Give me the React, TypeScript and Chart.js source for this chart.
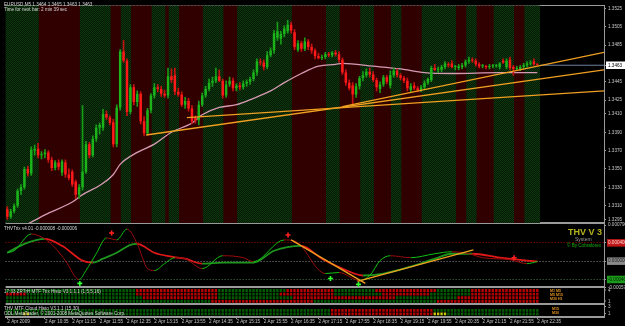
import React, { useEffect, useRef } from 'react';
import { Chart, registerables } from 'chart.js';

Chart.register(...registerables);

const FONT = '"Liberation Sans", "DejaVu Sans", sans-serif';
const SLOTS = 175;

// ---------- main price data (M5 bars, 2 Apr 2009 09:40 .. 22:35) ----------
const OPEN = [
  1.3306, 1.3298, 1.3304, 1.3310, 1.3326, 1.3330, 1.3350, 1.3345, 1.3370, 1.3372,
  1.3365, 1.3366, 1.3368, 1.3360, 1.3351, 1.3357, 1.3346, 1.3357, 1.3344, 1.3347,
  1.3336, 1.3322, 1.3330, 1.3347, 1.3377, 1.3365, 1.3383, 1.3395, 1.3395, 1.3410,
  1.3406, 1.3401, 1.3377, 1.3417, 1.3478, 1.3468, 1.3412, 1.3439, 1.3423, 1.3432,
  1.3402, 1.3389, 1.3414, 1.3430, 1.3439, 1.3437, 1.3432, 1.3430, 1.3451, 1.3452,
  1.3434, 1.3431, 1.3420, 1.3424, 1.3416, 1.3406, 1.3403, 1.3420, 1.3430, 1.3437,
  1.3444, 1.3446, 1.3451, 1.3446, 1.3430, 1.3442, 1.3446, 1.3438, 1.3441, 1.3439,
  1.3443, 1.3445, 1.3448, 1.3455, 1.3467, 1.3466, 1.3461, 1.3474, 1.3479, 1.3493,
  1.3492, 1.3497, 1.3500, 1.3507, 1.3499, 1.3480, 1.3487, 1.3481, 1.3489, 1.3483,
  1.3479, 1.3473, 1.3471, 1.3472, 1.3475, 1.3474, 1.3477, 1.3475, 1.3469, 1.3455,
  1.3444, 1.3441, 1.3431, 1.3440, 1.3449, 1.3452, 1.3456, 1.3453, 1.3447, 1.3437,
  1.3442, 1.3450, 1.3441, 1.3452, 1.3457, 1.3452, 1.3449, 1.3446, 1.3436, 1.3441,
  1.3438, 1.3436, 1.3439, 1.3444, 1.3447, 1.3460, 1.3458, 1.3458, 1.3461, 1.3464,
  1.3465, 1.3461, 1.3460, 1.3461, 1.3463, 1.3467, 1.3469, 1.3468, 1.3464, 1.3462,
  1.3462, 1.3461, 1.3462, 1.3462, 1.3461, 1.3468, 1.3461, 1.3469, 1.3461, 1.3459,
  1.3459, 1.3461, 1.3463, 1.3465, 1.3467, 1.3464,
];
const HIGH = [
  1.3309, 1.3306, 1.3312, 1.3328, 1.3333, 1.3352, 1.3353, 1.3374, 1.3376, 1.3378,
  1.3369, 1.3371, 1.3370, 1.3363, 1.3359, 1.3360, 1.3360, 1.3360, 1.3350, 1.3349,
  1.3338, 1.3333, 1.3419, 1.3380, 1.3379, 1.3386, 1.3398, 1.3400, 1.3415, 1.3413,
  1.3408, 1.3404, 1.3420, 1.3480, 1.3490, 1.3470, 1.3442, 1.3442, 1.3435, 1.3434,
  1.3407, 1.3416, 1.3432, 1.3443, 1.3442, 1.3440, 1.3436, 1.3460, 1.3459, 1.3460,
  1.3438, 1.3434, 1.3428, 1.3427, 1.3419, 1.3408, 1.3424, 1.3433, 1.3440, 1.3448,
  1.3450, 1.3460, 1.3458, 1.3448, 1.3446, 1.3450, 1.3449, 1.3443, 1.3444, 1.3446,
  1.3447, 1.3450, 1.3458, 1.3470, 1.3470, 1.3469, 1.3478, 1.3482, 1.3501, 1.3510,
  1.3500, 1.3506, 1.3512, 1.3510, 1.3502, 1.3490, 1.3489, 1.3493, 1.3491, 1.3486,
  1.3481, 1.3476, 1.3474, 1.3477, 1.3477, 1.3478, 1.3479, 1.3478, 1.3471, 1.3458,
  1.3447, 1.3444, 1.3443, 1.3451, 1.3456, 1.3459, 1.3460, 1.3456, 1.3449, 1.3445,
  1.3452, 1.3452, 1.3457, 1.3460, 1.3459, 1.3454, 1.3451, 1.3449, 1.3443, 1.3444,
  1.3440, 1.3441, 1.3446, 1.3449, 1.3462, 1.3464, 1.3461, 1.3463, 1.3467, 1.3466,
  1.3468, 1.3463, 1.3464, 1.3465, 1.3469, 1.3472, 1.3471, 1.3470, 1.3466, 1.3464,
  1.3463, 1.3464, 1.3464, 1.3464, 1.3466, 1.3470, 1.3470, 1.3472, 1.3463, 1.3462,
  1.3463, 1.3465, 1.3467, 1.3468, 1.3470, 1.3465,
];
const LOW = [
  1.3295, 1.3296, 1.3302, 1.3308, 1.3322, 1.3328, 1.3342, 1.3343, 1.3365, 1.3362,
  1.3361, 1.3362, 1.3357, 1.3348, 1.3349, 1.3349, 1.3343, 1.3341, 1.3338, 1.3331,
  1.3318, 1.3318, 1.3327, 1.3345, 1.3362, 1.3363, 1.3380, 1.3388, 1.3392, 1.3404,
  1.3398, 1.3374, 1.3374, 1.3414, 1.3466, 1.3408, 1.3410, 1.3420, 1.3418, 1.3399,
  1.3386, 1.3387, 1.3411, 1.3427, 1.3434, 1.3429, 1.3428, 1.3427, 1.3444, 1.3431,
  1.3429, 1.3418, 1.3416, 1.3413, 1.3399, 1.3400, 1.3398, 1.3418, 1.3428, 1.3435,
  1.3440, 1.3444, 1.3445, 1.3427, 1.3428, 1.3440, 1.3435, 1.3435, 1.3436, 1.3437,
  1.3440, 1.3442, 1.3446, 1.3452, 1.3463, 1.3458, 1.3459, 1.3472, 1.3476, 1.3490,
  1.3486, 1.3494, 1.3498, 1.3498, 1.3480, 1.3478, 1.3478, 1.3479, 1.3480, 1.3476,
  1.3470, 1.3470, 1.3469, 1.3470, 1.3472, 1.3472, 1.3473, 1.3466, 1.3453, 1.3441,
  1.3436, 1.3420, 1.3428, 1.3437, 1.3446, 1.3450, 1.3450, 1.3445, 1.3435, 1.3433,
  1.3440, 1.3443, 1.3438, 1.3450, 1.3450, 1.3447, 1.3444, 1.3435, 1.3434, 1.3436,
  1.3434, 1.3434, 1.3437, 1.3442, 1.3445, 1.3457, 1.3455, 1.3456, 1.3459, 1.3461,
  1.3460, 1.3458, 1.3458, 1.3459, 1.3461, 1.3465, 1.3466, 1.3462, 1.3460, 1.3460,
  1.3459, 1.3459, 1.3460, 1.3461, 1.3459, 1.3465, 1.3459, 1.3458, 1.3452, 1.3457,
  1.3457, 1.3459, 1.3461, 1.3463, 1.3463, 1.3463,
];
const CLOSE = [
  1.3298, 1.3304, 1.3310, 1.3326, 1.3330, 1.3350, 1.3345, 1.3371, 1.3372, 1.3365,
  1.3366, 1.3368, 1.3360, 1.3351, 1.3357, 1.3352, 1.3358, 1.3344, 1.3340, 1.3333,
  1.3322, 1.3330, 1.3347, 1.3377, 1.3365, 1.3383, 1.3395, 1.3398, 1.3410, 1.3406,
  1.3400, 1.3377, 1.3417, 1.3478, 1.3468, 1.3412, 1.3439, 1.3423, 1.3432, 1.3402,
  1.3389, 1.3414, 1.3430, 1.3439, 1.3437, 1.3432, 1.3430, 1.3451, 1.3447, 1.3434,
  1.3431, 1.3420, 1.3424, 1.3416, 1.3402, 1.3403, 1.3420, 1.3430, 1.3437, 1.3444,
  1.3446, 1.3451, 1.3446, 1.3430, 1.3442, 1.3446, 1.3438, 1.3441, 1.3439, 1.3443,
  1.3445, 1.3448, 1.3455, 1.3467, 1.3466, 1.3461, 1.3474, 1.3479, 1.3498, 1.3500,
  1.3497, 1.3503, 1.3507, 1.3501, 1.3483, 1.3487, 1.3481, 1.3489, 1.3483, 1.3479,
  1.3473, 1.3471, 1.3472, 1.3475, 1.3474, 1.3477, 1.3475, 1.3469, 1.3455, 1.3444,
  1.3438, 1.3431, 1.3440, 1.3449, 1.3452, 1.3456, 1.3453, 1.3447, 1.3439, 1.3442,
  1.3450, 1.3445, 1.3452, 1.3457, 1.3452, 1.3449, 1.3446, 1.3438, 1.3440, 1.3438,
  1.3436, 1.3439, 1.3444, 1.3448, 1.3460, 1.3458, 1.3458, 1.3461, 1.3465, 1.3463,
  1.3461, 1.3461, 1.3462, 1.3463, 1.3467, 1.3469, 1.3468, 1.3464, 1.3462, 1.3462,
  1.3461, 1.3462, 1.3462, 1.3463, 1.3465, 1.3466, 1.3468, 1.3460, 1.3459, 1.3460,
  1.3461, 1.3463, 1.3465, 1.3466, 1.3464, 1.3463,
];

const TIME_TICK_BARS = [0, 11, 19, 27, 35, 43, 51, 59, 67, 75, 83, 91, 99, 107, 115, 123, 131, 139, 147, 155];
const TIME_TICK_LABELS = [
  '2 Apr 2009', '2 Apr 10:35', '2 Apr 11:15', '2 Apr 11:55', '2 Apr 12:35', '2 Apr 13:15',
  '2 Apr 13:55', '2 Apr 14:35', '2 Apr 15:15', '2 Apr 15:55', '2 Apr 16:35', '2 Apr 17:15',
  '2 Apr 17:55', '2 Apr 18:35', '2 Apr 19:15', '2 Apr 19:55', '2 Apr 20:35', '2 Apr 21:15',
  '2 Apr 21:55', '2 Apr 22:35',
];

const PRICE_MIN = 1.3291;
const PRICE_MAX = 1.3528;
const PRICE_TICKS = [1.3525, 1.3505, 1.3485, 1.3445, 1.3425, 1.3410, 1.3390, 1.3370, 1.3350, 1.3330, 1.3310, 1.3295];
const BID = 1.3463;

// background session bands (run length: bars, colour key)
const BAND_RUNS: [number, string][] = [
  [10, 'G'], [12, 'R'], [9, 'G'], [3, 'R'], [3, 'G'], [6, 'R'], [4, 'G'], [1, 'R'], [3, 'G'], [7, 'R'],
  [6, 'G'], [4, 'R'], [16, 'G'], [10, 'R'], [4, 'G'], [6, 'R'], [4, 'G'], [5, 'R'], [3, 'G'], [6, 'R'],
  [10, 'G'], [3, 'R'], [3, 'G'], [5, 'R'], [6, 'G'], [3, 'R'], [4, 'G'],
];

// moving average: [bar, price]
const MA_POINTS: [number, number][] = [
  [6, 1.3290], [11, 1.3300], [19, 1.3314], [22, 1.3322], [27, 1.3332], [31, 1.3344], [33, 1.3355],
  [38, 1.3368], [43, 1.3377], [48, 1.3390], [54, 1.3400], [57, 1.3409], [62, 1.3417], [67, 1.3420],
  [72, 1.3427], [77, 1.3435], [81, 1.3444], [86, 1.3454], [91, 1.3462], [96, 1.3464], [98, 1.3465],
  [107, 1.3462], [115, 1.3459], [122, 1.3455], [130, 1.3454], [144, 1.3455], [155, 1.3455],
];

// trend lines on price: [bar0, price0, bar1, price1]
const PRICE_TRENDLINES: [number, number, number, number][] = [
  [40.6, 1.3387, 174.5, 1.3458],
  [52.5, 1.3406, 174.5, 1.3435],
  [98.0, 1.3418, 174.5, 1.3477],
];

// ---------- THV Trix ----------
const TRIX_MIN = -0.000572;
const TRIX_MAX = 0.000832;
const TRIX_EDGE_TICKS = [0.00079, -0.00057];
const TRIX_LEVELS = [0.0004, 0, -0.0004];
const TRIX_FAST: [number, number][] = [
  [0, 0.000184], [2, 0.000227], [7, 0.000594], [11, 0.000486], [14, 0.000292], [17, 0.000011],
  [21, -0.0004], [23, -0.000205], [26, 0.000162], [29, 0.000508], [32, 0.000464], [35, 0.000702],
  [38, 0.000378], [41, -0.000162], [43, -0.000205], [46, -0.000054], [49, 0.000076], [52, 0.000054],
  [57, -0.000162], [63, 0.000119], [69, 0.000076], [72, -0.000011], [81, 0.000464], [84, 0.000443],
  [93, -0.00027], [97, -0.000248], [103, -0.000421], [106, -0.000313], [109, 0.000011], [112, 0.000119],
  [118, 0.000076], [125, 0.000162], [130, 0.000205], [135, 0.000162], [139, 0.000076], [147, 0.000032],
  [152, -0.000054], [155, -0.000008],
];
const TRIX_SLOW: [number, number][] = [
  [0, 0.000184], [5, 0.000378], [11, 0.000486], [16, 0.000335], [22, 0.000011], [25, -0.000032],
  [28, 0.000054], [32, 0.000184], [36, 0.000356], [38, 0.000378], [43, 0.000184], [48, 0.000097],
  [52, 0.000054], [57, -0.000054], [63, -0.000032], [72, -0.000032], [78, 0.000227], [86, 0.000335],
  [92, 0.000054], [98, -0.000162], [104, -0.000313], [110, -0.00027], [118, -0.000119], [125, 0.000054],
  [130, 0.000162], [136, 0.000162], [144, 0.000076], [152, 0.000011], [155, -0.000006],
];
const TRIX_TRENDLINES: [number, number, number, number][] = [
  [83.0, 0.000464, 104.7, -0.000486],
  [102.4, -0.000443, 136.3, 0.000248],
];
const TRIX_SIGNAL_DOWN: [number, number][] = [[30.5, 0.000616], [82.1, 0.000572], [148.2, 0.000076]];
const TRIX_SIGNAL_UP: [number, number][] = [[21.2, -0.000486], [94.5, -0.000378], [102.7, -0.000508]];

// ---------- MTF histograms (rows top→bottom, run length) ----------
const TRIX_HISTO_ROWS: [number, string][][] = [
  [[38, 'G'], [24, 'R'], [20, 'G'], [14, 'R'], [12, 'G'], [18, 'R'], [10, 'G'], [20, 'R']],
  [[6, 'R'], [32, 'G'], [24, 'R'], [18, 'G'], [16, 'R'], [14, 'G'], [14, 'R'], [12, 'G'], [20, 'R']],
  [[40, 'G'], [22, 'R'], [22, 'G'], [30, 'R'], [18, 'G'], [24, 'R']],
  [[60, 'G'], [30, 'R'], [36, 'G'], [30, 'R']],
];
const CLOUD_HISTO_ROWS: [number, string][][] = [
  [[95, 'G'], [30, 'R'], [31, 'G']],
  [[5, 'G'], [2, 'Y'], [88, 'G'], [30, 'R'], [4, 'Y'], [27, 'G']],
];
const TRIX_HISTO_TF = ['M1 M5', 'M5 M15', 'M30 H1'];
const CLOUD_HISTO_TF = ['M15', 'M30'];

const TITLE_MAIN = 'EURUSD,M5  1.3464 1.3465 1.3463 1.3463';
const TITLE_TIMER = 'Time for next bar: 2 min 39 sec';
const TITLE_TRIX = 'THVTrix v4.01 -0.000008 -0.000006';
const TITLE_HISTO = '17:33 ZRTrH MTF Trix Histo V3.1.1.1 (1,5,5,16)';
const TITLE_CLOUD = 'THV MTF Cloud Histo V3.1.1 (15,30)';
const COPYRIGHT = 'ODL MetaTrader, \u00a9 2001-2008 MetaQuotes Software Corp.';
const BRAND = 'THV V 3';
const BRAND_SUB = 'System';
const BRAND_BY = '\u00a9 By Cobraforex';

const expand = (runs: [number, string][]) => runs.flatMap(([n, c]) => Array(n).fill(c) as string[]);
const pts = (arr: [number, number][]) => arr.map(([x, y]) => ({ x, y }));

const GRID_GRAY = '#9a9a9a';
const LABEL = '#c8c8c8';
const tickFont = { family: FONT, size: 4.6 };
const CELL = { R: '#b80000', G: '#005c00', Y: '#c8c800' } as Record<string, string>;

export default function App() {
  const ref = useRef<HTMLCanvasElement | null>(null);

  useEffect(() => {
    const canvas = ref.current;
    if (!canvas) return;
    const ctx = canvas.getContext('2d')!;
    const tile = document.createElement('canvas');
    tile.width = 2;
    tile.height = 2;
    const t = tile.getContext('2d')!;
    t.fillStyle = '#051805';
    t.fillRect(0, 0, 2, 2);
    t.fillStyle = '#0e380e';
    t.fillRect(0, 0, 1, 1);
    t.fillRect(1, 1, 1, 1);
    const greenBand = ctx.createPattern(tile, 'repeat')!;

    const idx = OPEN.map((_, i) => i);
    const up = idx.map((i) => CLOSE[i] >= OPEN[i]);
    const bandColors = expand(BAND_RUNS).map((c) => (c === 'G' ? greenBand : '#300000'));

    const line = (data: any[], color: string, width: number, yAxisID: string, order: number, extra: any = {}) => ({
      type: 'line', data, borderColor: color, borderWidth: width, pointRadius: 0, yAxisID, xAxisID: 'x', order, ...extra,
    });

    const datasets: any[] = [];
    datasets.push({
      type: 'bar', data: idx.map((i) => ({ x: i, y: [OPEN[i], CLOSE[i]] })),
      backgroundColor: idx.map((i) => (up[i] ? '#1bb41b' : '#ff1a1a')),
      grouped: false, barPercentage: 0.72, categoryPercentage: 1, minBarLength: 1, yAxisID: 'y', order: 1,
    });
    datasets.push({
      type: 'bar', data: idx.map((i) => ({ x: i, y: [LOW[i], HIGH[i]] })),
      backgroundColor: idx.map((i) => (up[i] ? '#169c16' : '#c81010')),
      grouped: false, maxBarThickness: 1, barPercentage: 1, categoryPercentage: 1, yAxisID: 'y', order: 2,
    });
    PRICE_TRENDLINES.forEach(([x0, y0, x1, y1]) =>
      datasets.push(line([{ x: x0, y: y0 }, { x: x1, y: y1 }], '#f0a020', 1.3, 'y', 0)));
    datasets.push(line(pts(MA_POINTS), '#d79ab4', 1.3, 'y', 3, { cubicInterpolationMode: 'monotone' }));
    datasets.push({
      type: 'bar', data: idx.map((i) => ({ x: i, y: [PRICE_MIN, PRICE_MAX] })),
      backgroundColor: bandColors, grouped: false, barPercentage: 1, categoryPercentage: 1, inflateAmount: 1,
      yAxisID: 'y', order: 100,
    });
    datasets.push(line([{ x: -0.5, y: BID }, { x: SLOTS - 0.5, y: BID }], '#6f7f9c', 1, 'y', 200));

    const trixSeg = (upC: string, dnC: string) => ({
      borderColor: (c: any) => (c.p1.parsed.y >= c.p0.parsed.y ? upC : dnC),
    });
    datasets.push(line(pts(TRIX_SLOW), '#e01818', 1.8, 'yTrix', 2, { cubicInterpolationMode: 'monotone', segment: trixSeg('#1e961e', '#e01818') }));
    datasets.push(line(pts(TRIX_FAST), '#a00000', 1, 'yTrix', 1, { cubicInterpolationMode: 'monotone', segment: trixSeg('#10c010', '#9a0a0a') }));
    TRIX_TRENDLINES.forEach(([x0, y0, x1, y1]) =>
      datasets.push(line([{ x: x0, y: y0 }, { x: x1, y: y1 }], '#f0a020', 1.3, 'yTrix', 0)));
    datasets.push(line(pts(TRIX_SIGNAL_DOWN), '#ff2020', 0, 'yTrix', 0, {
      showLine: false, pointStyle: 'cross', pointRadius: 2.5, pointBorderWidth: 1.6, pointBorderColor: '#ff2020',
    }));
    datasets.push(line(pts(TRIX_SIGNAL_UP), '#20ff20', 0, 'yTrix', 0, {
      showLine: false, pointStyle: 'cross', pointRadius: 2.5, pointBorderWidth: 1.6, pointBorderColor: '#30ff30',
    }));

    TRIX_HISTO_ROWS.forEach((runs, k) => {
      const row = TRIX_HISTO_ROWS.length - k;
      const cells = expand(runs);
      datasets.push({
        type: 'bar', data: idx.map((i) => ({ x: i, y: [row - 0.4, row + 0.4] })),
        backgroundColor: cells.map((c) => CELL[c]), grouped: false, barPercentage: 0.7, categoryPercentage: 1,
        yAxisID: 'yH1', order: 5,
      });
    });
    CLOUD_HISTO_ROWS.forEach((runs, k) => {
      const row = CLOUD_HISTO_ROWS.length - k;
      const cells = expand(runs);
      datasets.push({
        type: 'bar', data: idx.map((i) => ({ x: i, y: [row - 0.4, row + 0.4] })),
        backgroundColor: cells.map((c) => CELL[c]), grouped: false, barPercentage: 0.7, categoryPercentage: 1,
        yAxisID: 'yH2', order: 5,
      });
    });

    const sideAxis = (weight: number, min: number, max: number, tickVals: number[], extra: any = {}) => ({
      type: 'linear', position: 'right', stack: 'panels', stackWeight: weight, min, max, z: 1,
      afterFit: (s: any) => { s.width = 21; },
      afterBuildTicks: (s: any) => { s.ticks = tickVals.map((v) => ({ value: v })); },
      border: { display: true, color: GRID_GRAY, width: 1 },
      ...extra,
    });

    const isSep = (c: any, vals: number[]) => c.tick && vals.includes(c.tick.value);

    const chart = new Chart(canvas, {
      type: 'bar',
      data: { datasets },
      options: {
        animation: false,
        responsive: false,
        maintainAspectRatio: false,
        devicePixelRatio: 1,
        events: [],
        layout: { padding: { top: 2, left: 0, right: 0, bottom: 0 } },
        plugins: { legend: { display: false }, tooltip: { enabled: false }, title: { display: false } },
        scales: {
          x: {
            type: 'linear', min: -0.5, max: SLOTS - 0.5, position: 'bottom', offset: false,
            afterFit: (s: any) => { s.height = 9; },
            afterBuildTicks: (s: any) => { s.ticks = TIME_TICK_BARS.map((v) => ({ value: v })); },
            ticks: {
              font: tickFont, color: LABEL, align: 'start', padding: 0, maxRotation: 0, autoSkip: false,
              callback: (v: any) => {
                const k = TIME_TICK_BARS.indexOf(v);
                return k >= 0 ? TIME_TICK_LABELS[k] : '';
              },
            },
            grid: { drawOnChartArea: false, drawTicks: true, tickLength: 2, color: GRID_GRAY, offset: false },
            border: { display: true, color: GRID_GRAY, width: 2 },
          },
          y: sideAxis(220, PRICE_MIN, PRICE_MAX, [PRICE_MAX, ...PRICE_TICKS, BID, PRICE_MIN], {
            ticks: {
              font: tickFont, padding: 2, autoSkip: false,
              color: (c: any) => (c.tick && c.tick.value === BID ? '#000000' : LABEL),
              showLabelBackdrop: (c: any) => !!(c.tick && c.tick.value === BID),
              backdropColor: '#ffffff',
              backdropPadding: { top: 1, bottom: 1, left: 2, right: 4 },
              callback: (v: any) => (v === PRICE_MAX || v === PRICE_MIN ? '' : Number(v).toFixed(4)),
            },
            grid: {
              drawOnChartArea: true, drawTicks: true, tickLength: 2, tickWidth: 1,
              tickColor: (c: any) => (isSep(c, [PRICE_MAX, PRICE_MIN]) ? 'rgba(0,0,0,0)' : GRID_GRAY),
              color: (c: any) => (isSep(c, [PRICE_MAX, PRICE_MIN]) ? GRID_GRAY : 'rgba(0,0,0,0)'),
              lineWidth: (c: any) => (c.tick && c.tick.value === PRICE_MIN ? 2 : 1),
            },
          }),
          yTrix: sideAxis(65, TRIX_MIN, TRIX_MAX, [...TRIX_EDGE_TICKS, ...TRIX_LEVELS, TRIX_MIN], {
            ticks: {
              font: tickFont, padding: 2, autoSkip: false,
              color: (c: any) => {
                const v = c.tick && c.tick.value;
                if (v === TRIX_LEVELS[0]) return '#ffd0d0';
                if (v === TRIX_LEVELS[2]) return '#002000';
                if (v === TRIX_LEVELS[1]) return '#202020';
                return LABEL;
              },
              showLabelBackdrop: (c: any) => !!(c.tick && TRIX_LEVELS.includes(c.tick.value)),
              backdropColor: (c: any) => {
                const v = c.tick && c.tick.value;
                if (v === TRIX_LEVELS[0]) return '#c01818';
                if (v === TRIX_LEVELS[2]) return '#1c9a1c';
                return '#8a8a8a';
              },
              backdropPadding: { top: 1, bottom: 1, left: 1, right: 3 },
              callback: (v: any) => (v === TRIX_MIN ? '' : Number(v).toFixed(6).replace('-0.000000', '0.000000')),
            },
            grid: {
              drawOnChartArea: true, drawTicks: true, tickLength: 2, tickWidth: 1,
              tickColor: (c: any) => (isSep(c, [TRIX_MIN]) ? 'rgba(0,0,0,0)' : GRID_GRAY),
              color: (c: any) => {
                const v = c.tick && c.tick.value;
                if (v === TRIX_MIN) return GRID_GRAY;
                if (v === TRIX_LEVELS[0]) return '#b00000';
                if (v === TRIX_LEVELS[1]) return '#8a8a8a';
                if (v === TRIX_LEVELS[2]) return '#4a7a4a';
                return 'rgba(0,0,0,0)';
              },
              lineWidth: (c: any) => (c.tick && c.tick.value === TRIX_MIN ? 2 : 1),
            },
            border: {
              display: true, color: GRID_GRAY, width: 1,
              dash: (c: any) => (c.tick && TRIX_LEVELS.includes(c.tick.value) ? [1, 2] : []),
            },
          }),
          yH1: sideAxis(17, 0.25, 4.85, [4, 1, 0.25], {
            ticks: { font: tickFont, color: LABEL, padding: 2, autoSkip: false, callback: (v: any) => (v === 0.25 ? '' : String(v)) },
            grid: {
              drawOnChartArea: true, drawTicks: true, tickLength: 2, tickWidth: 1,
              tickColor: (c: any) => (isSep(c, [0.25]) ? 'rgba(0,0,0,0)' : GRID_GRAY),
              color: (c: any) => (isSep(c, [0.25]) ? GRID_GRAY : 'rgba(0,0,0,0)'),
              lineWidth: 2,
            },
          }),
          yH2: sideAxis(13, 0.1, 3.8, [3, 1], {
            ticks: { font: tickFont, color: LABEL, padding: 2, autoSkip: false, callback: (v: any) => String(v) },
            grid: { drawOnChartArea: false, drawTicks: true, tickLength: 2, color: GRID_GRAY },
          }),
        },
      } as any,
    } as any);
    return () => chart.destroy();
  }, []);

  const txt = (color: string, extra: React.CSSProperties = {}): React.CSSProperties => ({
    position: 'absolute', fontFamily: FONT, fontSize: '4.6px', lineHeight: '5px', color, whiteSpace: 'nowrap', ...extra,
  });

  return (
    <div style={{ position: 'relative', width: 625, height: 326, background: '#000', overflow: 'hidden' }}>
      <style>{'body{margin:0;background:#000}'}</style>
      <canvas ref={ref} width={625} height={326} style={{ display: 'block', width: 625, height: 326 }} />
      <div style={txt('#d8d8d8', { left: 4, top: 2 })}>{TITLE_MAIN}</div>
      <div style={txt('#d8d8d8', { left: 4, top: 7 })}>{TITLE_TIMER}</div>
      <div style={txt('#d8d8d8', { left: 4, top: 226 })}>{TITLE_TRIX}</div>
      <div style={txt('#d8d8d8', { left: 4, top: 289 })}>{TITLE_HISTO}</div>
      <div style={txt('#d8d8d8', { left: 4, top: 306 })}>{TITLE_CLOUD}</div>
      <div style={txt('#d8d8d8', { left: 4, top: 311 })}>{COPYRIGHT}</div>
      <div style={txt('#b4b41e', { left: 568, top: 227, fontSize: '9px', lineHeight: '10px', fontWeight: 'bold' })}>{BRAND}</div>
      <div style={txt('#9a9a9a', { left: 575, top: 237, fontSize: '5px' })}>{BRAND_SUB}</div>
      <div style={txt('#10b010', { left: 567, top: 243 })}>{BRAND_BY}</div>
      {TRIX_HISTO_TF.map((s, k) => (
        <div key={s} style={txt('#e09020', { left: 550, top: 289 + k * 4, fontSize: '3.6px', lineHeight: '4px', fontWeight: 'bold' })}>{s}</div>
      ))}
      {CLOUD_HISTO_TF.map((s, k) => (
        <div key={s} style={txt('#e09020', { left: 552, top: 307 + k * 4, fontSize: '3.6px', lineHeight: '4px', fontWeight: 'bold' })}>{s}</div>
      ))}
    </div>
  );
}
